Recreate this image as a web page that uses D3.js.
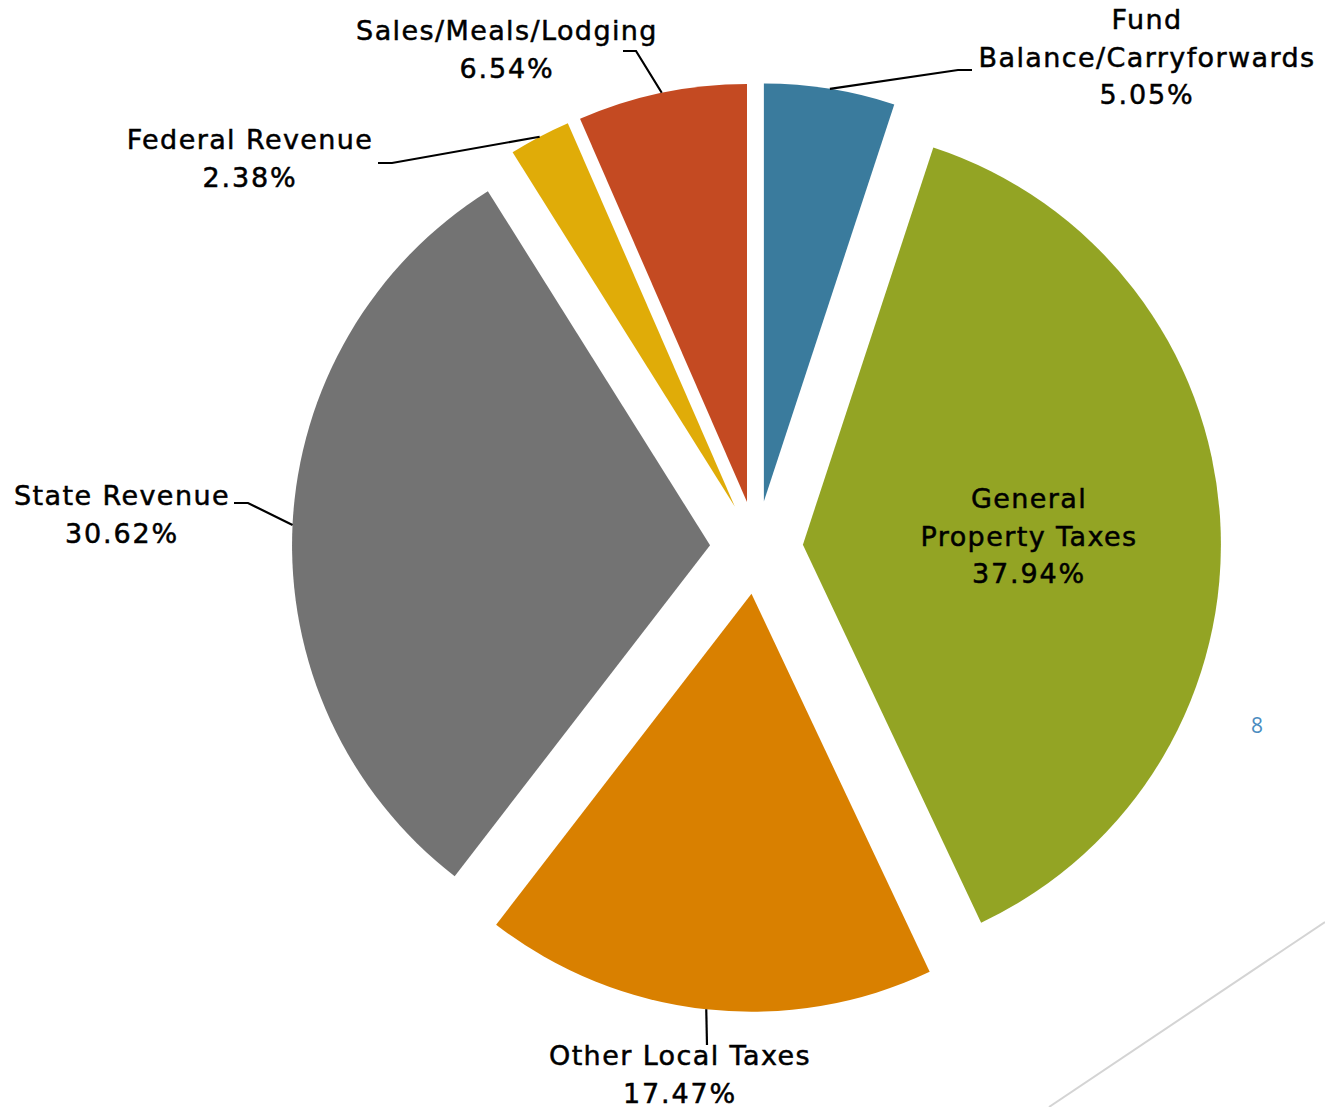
<!DOCTYPE html>
<html>
<head>
    <style type="text/css">
        body { margin: 0; background: #fff; }
        .label { font-family: "DejaVu Sans", Arial, sans-serif; font-size: 27px; fill: #000; stroke: #000; stroke-width: 0.5px; }
    </style>
</head>
<body>
    <svg width="1325" height="1107"></svg>
    <script src="https://d3js.org/d3.v7.min.js"></script>
    <script>
        // data
        var categories = ["Fund Balance/Carryforwards", "General Property Taxes", "Other Local Taxes",
                          "State Revenue", "Federal Revenue", "Sales/Meals/Lodging"];
        var shares = [5.05, 37.94, 17.47, 30.62, 2.38, 6.54];
        var labelLines = [["Fund", "Balance/Carryforwards"], ["General", "Property Taxes"], ["Other Local Taxes"],
                          ["State Revenue"], ["Federal Revenue"], ["Sales/Meals/Lodging"]];
        var colors = ["#3a7b9d", "#93a424", "#d98000", "#737373", "#e0ac08", "#c44a22"];

        // layout
        var cx = 756.5, cy = 547.5, radius = 418, explode = 46.5, lineH = 37.5;
        var labelPos = [
            { x: 1147, y: 29, elbow: [958, 70], end: [972, 70] },
            { x: 1029, y: 508, inside: true },
            { x: 680, y: 1065, elbow: null, end: [707, 1045] },
            { x: 122, y: 505, elbow: [248, 503], end: [234, 503] },
            { x: 250, y: 149, elbow: [392, 163], end: [378, 163] },
            { x: 507, y: 40, elbow: [636, 51], end: [623, 51] }
        ];

        var svg = d3.select("svg");

        // slide decoration
        svg.append("line").attr("x1", 1049).attr("y1", 1107).attr("x2", 1325).attr("y2", 922)
            .attr("stroke", "#d4d4d4").attr("stroke-width", 2);
        svg.append("text").attr("x", 1257).attr("y", 733).attr("text-anchor", "middle")
            .attr("font-family", "Open Sans, sans-serif").attr("font-size", 21).attr("fill", "#4a8cc0").text("8");

        var pie = d3.pie().sort(null).value(function (d) { return d; });
        var arcs = pie(shares);
        var arc = d3.arc().innerRadius(0).outerRadius(radius);

        var g = svg.append("g").attr("transform", "translate(" + cx + "," + cy + ")");

        function offset(d) {
            var a = (d.startAngle + d.endAngle) / 2;
            return [explode * Math.sin(a), -explode * Math.cos(a)];
        }

        g.selectAll("path.slice").data(arcs).enter().append("path")
            .attr("class", "slice")
            .attr("transform", function (d) { var o = offset(d); return "translate(" + o[0] + "," + o[1] + ")"; })
            .attr("fill", function (d, i) { return colors[i]; })
            .attr("d", arc);

        // leader lines
        arcs.forEach(function (d, i) {
            var p = labelPos[i];
            if (p.inside) return;
            var a = (d.startAngle + d.endAngle) / 2, o = offset(d);
            var sx = cx + o[0] + radius * Math.sin(a), sy = cy + o[1] - radius * Math.cos(a);
            var pts = [[sx, sy]];
            if (p.elbow) pts.push(p.elbow);
            pts.push(p.end);
            svg.append("path").attr("d", d3.line()(pts))
                .attr("fill", "none").attr("stroke", "#000").attr("stroke-width", 2.2);
        });

        // labels
        arcs.forEach(function (d, i) {
            var p = labelPos[i];
            var lines = labelLines[i].concat([shares[i].toFixed(2) + "%"]);
            var t = svg.append("text").attr("class", "label").attr("text-anchor", "middle");
            lines.forEach(function (s, k) {
                t.append("tspan").attr("x", p.x).attr("y", p.y + k * lineH)
                    .attr("letter-spacing", /%$/.test(s) ? 1.8 : 1.4).text(s);
            });
        });
    </script>
</body>
</html>
